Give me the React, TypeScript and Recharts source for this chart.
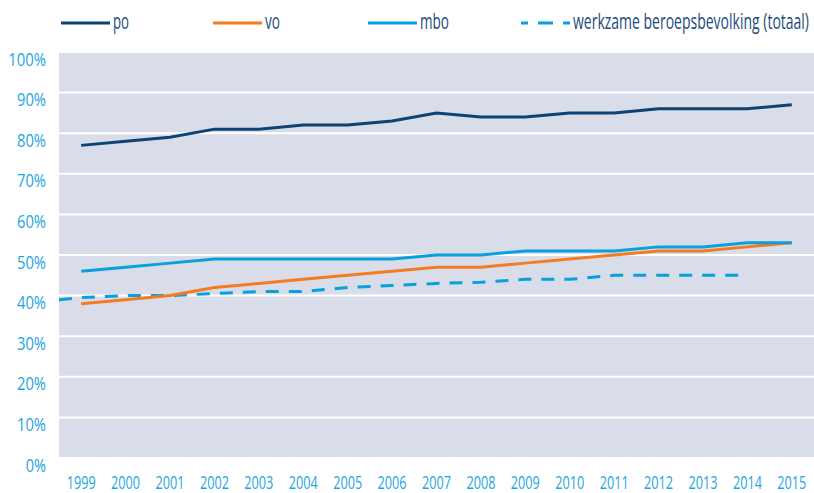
import { LineChart, Line, XAxis, YAxis, CartesianGrid } from 'recharts';

const years = [1999, 2000, 2001, 2002, 2003, 2004, 2005, 2006, 2007, 2008, 2009, 2010, 2011, 2012, 2013, 2014, 2015];
const po = [77, 78, 79, 81, 81, 82, 82, 83, 85, 84, 84, 85, 85, 86, 86, 86, 87];
const vo = [38, 39, 40, 42, 43, 44, 45, 46, 47, 47, 48, 49, 50, 51, 51, 52, 53];
const mbo = [46, 47, 48, 49, 49, 49, 49, 49, 50, 50, 51, 51, 51, 52, 52, 53, 53];
// workforce series starts at the left edge of the plot and stops at 2014
const workforceYears = [1998.5, 1999, 2000, 2001, 2002, 2003, 2004, 2005, 2006, 2007, 2008, 2009, 2010, 2011, 2012, 2013, 2014];
const workforce = [39, 39.5, 40, 40, 40.5, 41, 41, 42, 42.5, 43, 43.3, 44, 44, 45, 45, 45, 45];
const yTicks = [0, 10, 20, 30, 40, 50, 60, 70, 80, 90, 100];

const FONT = '"Open Sans", "Noto Sans", sans-serif';
const AXIS_BLUE = '#1ea5e0';
const LEGEND_TEXT = '#1d4b7c';
const NAVY = '#0e4275';
const ORANGE = '#f47b20';
const CYAN = '#0aa0dc';

const legendItems = [
  { label: 'po', color: NAVY, dashed: false, x: 61, textWidth: 16 },
  { label: 'vo', color: ORANGE, dashed: false, x: 213, textWidth: 15 },
  { label: 'mbo', color: CYAN, dashed: false, x: 368, textWidth: 29 },
  { label: 'werkzame beroepsbevolking (totaal)', color: CYAN, dashed: true, x: 521, textWidth: 236 },
];

const data = [
  ...workforceYears.map((year, i) => {
    const k = years.indexOf(year);
    return {
      year,
      po: k >= 0 ? po[k] : undefined,
      vo: k >= 0 ? vo[k] : undefined,
      mbo: k >= 0 ? mbo[k] : undefined,
      workforce: workforce[i],
    };
  }),
  { year: 2015, po: po[16], vo: vo[16], mbo: mbo[16], workforce: undefined },
];

function ChartLegend() {
  return (
    <svg width={814} height={44} style={{ position: 'absolute', left: 0, top: 0 }}>
      {legendItems.map((item) => (
        <g key={item.label}>
          <line
            x1={item.x}
            x2={item.x + 49}
            y1={23}
            y2={23}
            stroke={item.color}
            strokeWidth={3}
            strokeDasharray={item.dashed ? '15 10' : undefined}
            strokeDashoffset={item.dashed ? 8 : undefined}
          />
          <text
            x={item.x + 52}
            y={29}
            fill={LEGEND_TEXT}
            fontSize={22}
            fontFamily={FONT}
            textLength={item.textWidth}
            lengthAdjust="spacingAndGlyphs"
          >
            {item.label}
          </text>
        </g>
      ))}
    </svg>
  );
}

function YTick({ y, payload }: any) {
  const label = `${payload.value}%`;
  const w = (label.length - 1) * 8.7 + 11.6;
  return (
    <text
      x={46 - w}
      y={y + 13.5}
      fill={AXIS_BLUE}
      fontSize={18}
      fontFamily={FONT}
      textLength={w}
      lengthAdjust="spacingAndGlyphs"
    >
      {label}
    </text>
  );
}

function XTick({ x, payload }: any) {
  return (
    <text
      x={x - 14.5}
      y={489}
      fill={AXIS_BLUE}
      fontSize={18}
      fontFamily={FONT}
      textLength={29}
      lengthAdjust="spacingAndGlyphs"
    >
      {payload.value}
    </text>
  );
}

export default function App() {
  return (
    <div style={{ position: 'absolute', left: 0, top: 0, width: 814, height: 493, background: '#fff' }}>
      <LineChart width={814} height={493} data={data} margin={{ top: 52, right: 0, bottom: 0, left: 0 }}>
        <CartesianGrid vertical={false} fill="#d8dde9" stroke="#ffffff" strokeWidth={2} />
        <XAxis
          dataKey="year"
          type="number"
          domain={[1998.5, 2015.5]}
          ticks={years}
          height={35}
          axisLine={false}
          tickLine={false}
          tick={<XTick />}
          interval={0}
        />
        <YAxis
          type="number"
          domain={[0, 100]}
          ticks={yTicks}
          width={59}
          axisLine={false}
          tickLine={false}
          tick={<YTick />}
          interval={0}
        />
        <Line dataKey="workforce" stroke={CYAN} strokeWidth={3} strokeDasharray="13 10" dot={false} isAnimationActive={false} />
        <Line dataKey="vo" stroke={ORANGE} strokeWidth={3} dot={false} isAnimationActive={false} />
        <Line dataKey="mbo" stroke={CYAN} strokeWidth={3} dot={false} isAnimationActive={false} />
        <Line dataKey="po" stroke={NAVY} strokeWidth={3} dot={false} isAnimationActive={false} />
      </LineChart>
      <ChartLegend />
    </div>
  );
}
